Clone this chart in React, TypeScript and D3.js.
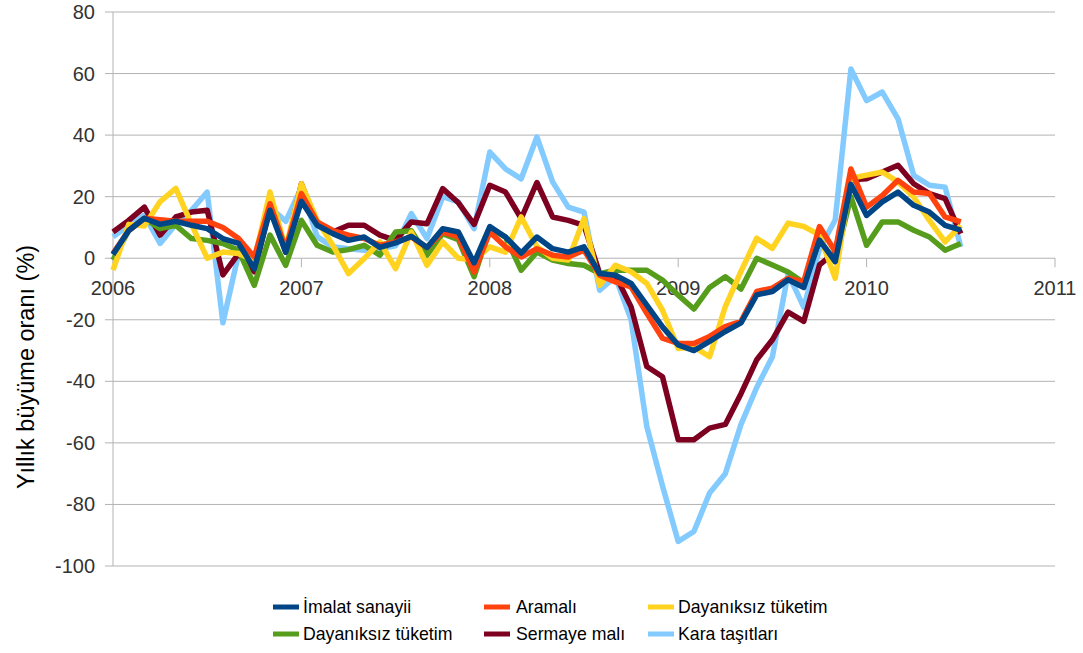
import React from "react";
import * as d3 from "d3";

const years = ["2006", "2007", "2008", "2009", "2010", "2011"];
const yTicks = [80, 60, 40, 20, 0, -20, -40, -60, -80, -100];

const imalat = [1.2, 9, 13, 11, 12, 10.7, 9.6, 6.4, 4.8, -3.4, 15.6, 2, 18.5, 10.7, 8, 5.8, 6.9, 3.5, 5, 7.1, 3.5, 9.6, 8.5, -1.5, 10.3, 6.9, 1.7, 6.9, 3.1, 2, 3.7, -5, -5.5, -8.2, -15.2, -22.3, -28.2, -30, -27, -23.8, -21, -11.9, -10.8, -7, -9.5, 5.9, -1.1, 24, 13.9, 18.3, 21.5, 17.2, 15, 10.7, 9.1];
const aramali = [1.5, 9, 13, 12.5, 12, 12, 12, 10, 6.4, 0.4, 17.7, 3.1, 21, 11.8, 9, 7.5, 6.4, 4.2, 5.3, 6.9, 3.5, 8.5, 6.9, -4.5, 8.5, 3.7, 0.4, 3.1, 1, 0.4, 2.6, -5.5, -7.7, -9.3, -17.9, -26, -27.7, -27.7, -25.4, -22.2, -20.5, -10.8, -9.7, -6.5, -7.6, 10.3, 2.2, 29, 16.6, 20.4, 25.3, 21.5, 21, 13.4, 11.8];
const dayaniksizYellow = [-3.9, 11, 10.5, 18.4, 22.7, 11, 0, 2, 1.5, -0.6, 21.5, 3, 24.2, 12.3, 4.2, -5, -0.1, 5.3, -3.4, 8.5, -2.3, 5.3, 0, -0.6, 3.7, 2, 13.4, 3.7, 0, -0.6, 12.9, -8.8, -2.3, -4.4, -8.2, -16.9, -29.3, -28.8, -32, -15.7, -4.3, 6.5, 3.2, 11.4, 10.3, 7.6, -6.5, 26, 27, 28, 24.8, 19.9, 12.3, 5.3, 10.7];
const dayaniksizGreen = [-0.6, 9, 12.9, 9.6, 10.7, 6.4, 5.8, 4.8, 2.6, -8.8, 7.5, -2.3, 12.3, 4.2, 2, 2.8, 4.2, 1, 8.5, 8.9, 1, 8, 6, -6, 9.6, 6.9, -3.9, 2, -0.6, -1.7, -2.3, -5, -3.9, -3.9, -3.9, -7.1, -12, -16.5, -9.5, -6, -10, 0, -2.2, -4.5, -8, 6, -1, 20, 4.2, 11.8, 11.8, 9.1, 6.9, 2.6, 4.8];
const sermaye = [8.5, 12.3, 16.6, 7.5, 13.4, 15, 15.6, -5.4, 1.5, -4.4, 16.6, 2, 24.2, 11.2, 8.5, 10.7, 10.7, 7.5, 5.8, 11.8, 11.2, 22.6, 18, 11, 23.7, 21.5, 12.9, 24.6, 13.4, 12.3, 10.7, -5, -5.5, -15.8, -35.2, -38.5, -59, -59, -55.2, -54, -44, -33, -26.5, -17.5, -20.5, -2.2, 2, 25.5, 25.8, 28, 30.2, 24.2, 21, 19.4, 8];
const karaTasitlari = [7, 10.7, 14, 4.8, 11, 15.6, 21.5, -21, 1.5, -1.7, 16.6, 12, 23, 7, 3.7, 3.1, 2.6, 3.1, 4, 14.5, 6.4, 20, 18.3, 9.6, 34.5, 29, 25.8, 39.4, 24.8, 16.6, 15, -10.4, -6, -20, -54.7, -74, -92, -88.8, -76.3, -70, -54, -42, -32, -5, -16, 3, 12.4, 61.5, 51.2, 54, 45.3, 26.9, 23.7, 23.1, 3.7];

const seriesNames = ["İmalat sanayii", "Aramalı", "Dayanıksız tüketim", "Dayanıksız tüketim", "Sermaye malı", "Kara taşıtları"];
const seriesValues = [imalat, aramali, dayaniksizYellow, dayaniksizGreen, sermaye, karaTasitlari];
const seriesColors = ["#004586", "#ff420e", "#ffd320", "#579d1c", "#7e0021", "#83caff"];

const W = 1083;
const H = 653;
const left = 113;
const right = 1055;
const top = 12;
const bottom = 566;

export default function App() {
  const x = d3.scaleLinear().domain([0, 60]).range([left, right]);
  const y = d3.scaleLinear().domain([-100, 80]).range([bottom, top]);
  const line = d3
    .line<number>()
    .x((_, i) => x(i))
    .y((d) => y(d));

  const legendPos = [
    { sx: 273, tx: 303, y: 607 },
    { sx: 484, tx: 516, y: 607 },
    { sx: 648, tx: 678, y: 607 },
    { sx: 273, tx: 303, y: 634 },
    { sx: 484, tx: 516, y: 634 },
    { sx: 648, tx: 678, y: 634 },
  ];

  const drawOrder = [5, 4, 3, 2, 1, 0];

  return (
    <svg
      width={W}
      height={H}
      style={{ position: "absolute", left: 0, top: 0, background: "#fff" }}
      fontFamily="'Liberation Sans', Arial, sans-serif"
    >
      {yTicks.map((t) => (
        <g key={t}>
          <line x1={left - 8} x2={right} y1={y(t)} y2={y(t)} stroke="#b3b3b3" strokeWidth={1} />
          <text x={left - 18} y={y(t)} dy="0.35em" textAnchor="end" fontSize={20} fill="#333">
            {t}
          </text>
        </g>
      ))}
      <line x1={left} x2={left} y1={top} y2={bottom} stroke="#b3b3b3" strokeWidth={1} />
      {years.map((yr, i) => (
        <g key={yr}>
          <line x1={x(i * 12)} x2={x(i * 12)} y1={y(0)} y2={y(0) + 9} stroke="#b3b3b3" strokeWidth={1} />
          <text x={x(i * 12)} y={y(0) + 37} textAnchor="middle" fontSize={20} fill="#333">
            {yr}
          </text>
        </g>
      ))}
      <text
        transform={`translate(34,367) rotate(-90)`}
        textAnchor="middle"
        fontSize={23.5}
        fill="#000"
      >
        Yıllık büyüme oranı (%)
      </text>
      {drawOrder.map((k) => (
        <path
          key={k}
          d={line(seriesValues[k]) || ""}
          fill="none"
          stroke={seriesColors[k]}
          strokeWidth={5.5}
          strokeLinejoin="round"
          strokeLinecap="butt"
        />
      ))}
      {seriesNames.map((n, k) => (
        <g key={k}>
          <line
            x1={legendPos[k].sx}
            x2={legendPos[k].sx + 26}
            y1={legendPos[k].y}
            y2={legendPos[k].y}
            stroke={seriesColors[k]}
            strokeWidth={5}
          />
          <text x={legendPos[k].tx} y={legendPos[k].y} dy="0.35em" fontSize={17.7} fill="#000">
            {n}
          </text>
        </g>
      ))}
    </svg>
  );
}
